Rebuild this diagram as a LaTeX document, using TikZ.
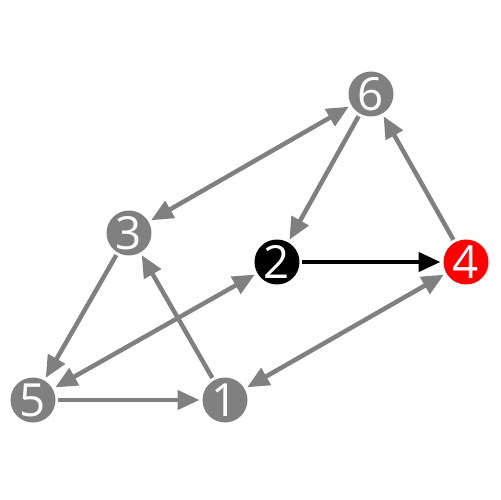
\documentclass[tikz,border=0pt]{standalone}
\usepackage{fontspec}
\setmainfont{Open Sans}
\usepackage{xcolor}
\usetikzlibrary{arrows.meta}

\begin{document}
\begin{tikzpicture}[
    x=0.02cm, y=-0.02cm,
    vertex/.style={circle, fill=gray, text=white, minimum size=0.9cm, inner sep=0pt, outer sep=0.06cm, font=\fontsize{26}{26}\selectfont},
    arrow/.style={-{Triangle[length=0.44cm,width=0.38cm]}, line width=0.09cm, gray},
    twoway/.style={{Triangle[length=0.44cm,width=0.38cm]}-{Triangle[length=0.44cm,width=0.38cm]}, line width=0.09cm, gray}
]
    \useasboundingbox (0,0) rectangle (500,500);
    \node[vertex] (n6) at (371,94) {6};
    \node[vertex] (n3) at (129,233) {3};
    \node[vertex, fill=black] (n2) at (277,262) {2};
    \node[vertex, fill=red] (n4) at (466,262) {4};
    \node[vertex] (n5) at (33,400) {5};
    \node[vertex] (n1) at (225,400) {1};

    \draw[twoway] (n3) -- (n6);
    \draw[arrow] (n6) -- (n2);
    \draw[arrow] (n4) -- (n6);
    \draw[arrow, black] (n2) -- (n4);
    \draw[arrow] (n3) -- (n5);
    \draw[arrow] (n1) -- (n3);
    \draw[twoway] (n5) -- (n2);
    \draw[arrow] (n5) -- (n1);
    \draw[twoway] (n1) -- (n4);
\end{tikzpicture}
\end{document}
